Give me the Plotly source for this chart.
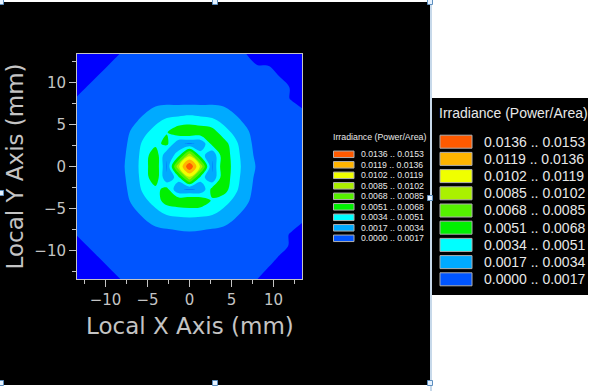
import plotly.graph_objects as go

# ---------------- data ----------------
# detector grid coordinates (mm)
x_mm = [-13.5, -12.15, -10.8, -9.45, -8.1, -6.75, -5.4, -4.05, -2.7, -1.35, 0.0,
        1.35, 2.7, 4.05, 5.4, 6.75, 8.1, 9.45, 10.8, 12.15, 13.5]
y_mm = list(x_mm)

# irradiance, in units of 1e-4 (Power/Area)
# rows listed from top (y=+13.5) to bottom (y=-13.5); columns x=-13.5 .. +13.5
# negative entries = corner zone below the lowest band (drawn dark blue)
irr_rows_top_down = [
    [-15, -15, -15, -9, 1, 10, 10, 10, 10, 10, 10, 10, 10, 10, 10, -0.4, -10, -10, -10, -10, -10],
    [-15, -15, -9, 1, 10, 10, 10, 10, 10, 10, 10, 10, 10, 10, 10, 10, -0.75, -1.5, -10, -10, -10],
    [-15, -9, 1, 10, 10, 10, 10, 10, 10, 10, 10, 10, 10, 10, 10, 10, 10, 10, -1.5, -10, -10],
    [-9, 1, 10, 10, 10, 10, 10, 11, 11, 11, 11, 11, 11, 11, 10, 10, 10, 10, 10, -2.35, -10],
    [1, 10, 10, 10, 10, 11, 12, 12, 12, 9, 8, 9, 12, 12, 12, 11, 10, 10, 10, -2.1, -10],
    [10, 10, 10, 10, 11, 12, 15, 19, 21, 23, 24, 23, 21, 19, 15, 12, 11, 10, 10, 10, 1],
    [10, 10, 10, 10, 12, 15, 20, 30, 39, 42, 45, 42, 39, 30, 20, 15, 12, 10, 10, 10, 10],
    [10, 10, 10, 11, 12, 19, 30, 42, 50, 64, 66, 64, 60, 42, 30, 19, 12, 11, 10, 10, 10],
    [10, 10, 10, 11, 13, 21, 39, 46, 56, 18, 16, 18, 57, 60, 39, 21, 13, 11, 10, 10, 10],
    [10, 10, 10, 11, 13, 24, 42, 64, 18, 43, 97, 43, 18, 64, 42, 24, 13, 11, 10, 10, 10],
    [10, 10, 10, 11, 14, 25, 43, 66, 16, 97, 153, 97, 16, 66, 43, 26, 15, 11, 10, 10, 10],
    [10, 10, 10, 11, 13, 24, 42, 64, 18, 43, 97, 43, 18, 64, 42, 24, 13, 11, 10, 10, 10],
    [10, 10, 10, 11, 13, 21, 39, 46, 57, 18, 16, 18, 57, 60, 39, 21, 13, 11, 10, 10, 10],
    [10, 10, 10, 11, 12, 19, 30, 42, 60, 64, 66, 64, 49, 42, 30, 19, 12, 11, 10, 10, 10],
    [10, 10, 10, 10, 12, 15, 20, 30, 39, 42, 43, 42, 39, 30, 20, 15, 12, 10, 10, 10, 10],
    [10, 10, 10, 10, 11, 12, 15, 19, 21, 24, 25, 24, 21, 19, 15, 12, 11, 10, 10, 10, -0.7],
    [0.3, 10, 10, 10, 10, 11, 12, 12, 13, 13, 14, 13, 13, 12, 12, 11, 10, 10, 10, -3.3, -10],
    [-9.7, 0.3, 10, 10, 10, 10, 10, 11, 11, 11, 11, 11, 11, 11, 10, 10, 10, 10, 10, -4.1, -10],
    [-15, -9.7, 0.3, 10, 10, 10, 10, 10, 10, 10, 10, 10, 10, 10, 10, 10, 10, 10, -2.9, -10, -10],
    [-15, -15, -9.7, 0.3, 10, 10, 10, 10, 10, 10, 10, 10, 10, 10, 10, 10, 10, -1.7, -10, -10, -10],
    [-15, -15, -15, -9.7, 0.3, 10, 10, 10, 10, 10, 10, 10, 10, 10, 10, 10, -0.7, -10, -10, -10, -10],
]

# contour band edges (Power/Area)
band_edges = [0.0000, 0.0017, 0.0034, 0.0051, 0.0068, 0.0085, 0.0102, 0.0119, 0.0136, 0.0153]
# colours: below-range corner, then one per band from low to high
below_color = "#0000ff"
band_colors = ["#0055ff", "#00aaff", "#00ffff", "#00f000", "#55f000",
               "#aaf000", "#f0ff00", "#ffb400", "#ff5a00"]
legend_title = "Irradiance (Power/Area)"
legend_labels = ["%.4f .. %.4f" % (band_edges[k], band_edges[k + 1]) for k in range(len(band_colors))]

x_ticks = [-10, -5, 0, 5, 10]
x_minor = [-12.5, -7.5, -2.5, 2.5, 7.5, 12.5]

# ---------------- figure ----------------
z = [[v * 1e-4 for v in row] for row in irr_rows_top_down[::-1]]

all_colors = [below_color] + band_colors
n = len(all_colors) - 1
colorscale = [[k / n, c] for k, c in enumerate(all_colors)]

fig = go.Figure()
fig.add_trace(go.Contour(
    x=x_mm, y=y_mm, z=z,
    autocontour=False,
    contours=dict(start=band_edges[0], end=band_edges[-2],
                  size=band_edges[1] - band_edges[0],
                  coloring="fill", showlines=False),
    line=dict(width=0),
    colorscale=colorscale, showscale=False, hoverinfo="skip",
))

L, T, W, H = 77, 54, 225, 225
def X(px):
    return (px - L) / W
def Y(py):
    return (T + H - py) / H

grey = "#c4c4c4"
axis_common = dict(
    range=[-13.4, 13.4], tickmode="array", tickvals=x_ticks,
    ticks="outside", ticklen=7, tickwidth=1, tickcolor=grey,
    minor=dict(tickmode="array", tickvals=x_minor, ticks="outside",
               ticklen=4, tickwidth=1, tickcolor=grey),
    showgrid=False, zeroline=False, showline=True, linecolor=grey,
    linewidth=1, mirror=True,
    tickfont=dict(family="DejaVu Sans", size=15, color=grey),
)
fig.update_xaxes(**axis_common)
fig.update_yaxes(**axis_common)

shapes = []
# black panel
shapes.append(dict(type="rect", xref="paper", yref="paper", x0=X(0), x1=X(430),
                   y0=Y(385), y1=Y(2), fillcolor="black", line=dict(width=0), layer="below"))
# thin divider
shapes.append(dict(type="line", xref="paper", yref="paper", x0=X(431), x1=X(431),
                   y0=Y(0), y1=Y(391), line=dict(color="#8fb3d6", width=1)))
# big legend box
shapes.append(dict(type="rect", xref="paper", yref="paper", x0=X(432), x1=X(588),
                   y0=Y(295), y1=Y(98), fillcolor="black", line=dict(width=0)))
# selection handles
for hx, hy in [(1, 2), (215, 2), (430, 2), (1, 193), (430, 198), (1, 383), (215, 383), (430, 383)]:
    shapes.append(dict(type="rect", xref="paper", yref="paper", x0=X(hx - 2.5), x1=X(hx + 2.5),
                       y0=Y(hy + 2.5), y1=Y(hy - 2.5), fillcolor="#e6f2ff",
                       line=dict(color="#5d8fbf", width=1)))

annotations = []
# axis titles
annotations.append(dict(text="Local X Axis (mm)", x=X(189.5), y=Y(326), xref="paper", yref="paper",
                        showarrow=False, xanchor="center", yanchor="middle",
                        font=dict(family="DejaVu Sans", size=23, color=grey)))
annotations.append(dict(text="Local Y Axis (mm)", x=X(14), y=Y(166.5), xref="paper", yref="paper",
                        showarrow=False, xanchor="center", yanchor="middle", textangle=-90,
                        font=dict(family="DejaVu Sans", size=23, color=grey)))

def add_legend(title_x, title_y, title_size, sw_x0, sw_x1, row0, pitch, sw_h, text_x, text_size):
    annotations.append(dict(text=legend_title, x=X(title_x), y=Y(title_y), xref="paper", yref="paper",
                            showarrow=False, xanchor="center", yanchor="middle",
                            font=dict(family="Liberation Sans", size=title_size, color="#e8e8e8")))
    for k in range(len(band_colors)):
        idx = len(band_colors) - 1 - k
        cy = row0 + pitch * k
        shapes.append(dict(type="rect", xref="paper", yref="paper", x0=X(sw_x0), x1=X(sw_x1),
                           y0=Y(cy + sw_h / 2), y1=Y(cy - sw_h / 2), fillcolor=band_colors[idx],
                           line=dict(color="#b0b0b0", width=1)))
        annotations.append(dict(text=legend_labels[idx], x=X(text_x), y=Y(cy), xref="paper", yref="paper",
                                showarrow=False, xanchor="left", yanchor="middle",
                                font=dict(family="Liberation Sans", size=text_size, color="#e8e8e8")))

add_legend(379.5, 137.3, 8.8, 333.5, 354, 154.3, 10.5, 6.5, 359, 8.7)
add_legend(513, 113.3, 14, 440, 472, 141.7, 17.2, 13, 482, 14)

fig.update_layout(
    width=591, height=391,
    margin=dict(l=L, r=591 - L - W, t=T, b=391 - T - H),
    paper_bgcolor="white", plot_bgcolor=band_colors[0],
    showlegend=False, shapes=shapes, annotations=annotations,
)

fig.write_html("out.html", config={"displayModeBar": False},
               post_script="document.body.style.margin='0';document.body.style.overflow='hidden';")
